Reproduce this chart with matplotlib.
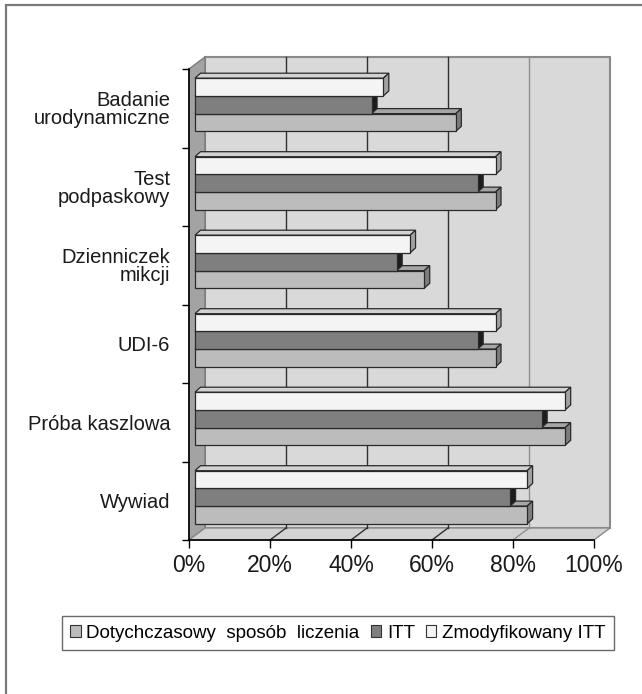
import matplotlib
matplotlib.use("Agg")
import matplotlib.pyplot as plt
from matplotlib.patches import Polygon, Rectangle, Patch

plt.rcParams['font.family'] = ['Liberation Sans', 'DejaVu Sans']

# ── data (top → bottom as shown) ───────────────────────────────────────────
categories = ["Badanie\nurodynamiczne", "Test\npodpaskowy", "Dzienniczek\nmikcji",
              "UDI-6", "Próba kaszlowa", "Wywiad"]
dotychczasowy = [64.4, 74.2, 56.6, 74.2, 91.4, 82.0]
itt           = [43.6, 69.8, 49.8, 69.8, 85.6, 77.8]
zmodyfikowany = [46.5, 74.2, 53.1, 74.2, 91.4, 82.0]
series_names = ["Dotychczasowy  sposób  liczenia", "ITT", "Zmodyfikowany ITT"]
x_ticks = [0, 20, 40, 60, 80, 100]

# ── style ───────────────────────────────────────────────────────────────────
# (front, top face, side face) for each series
_C = [
    ("#bcbcbc", "#a6a6a6", "#7d7d7d"),
    ("#7f7f7f", "#666666", "#1c1c1c"),
    ("#f3f4f3", "#d2d2d2", "#a2a2a2"),
]
EDGE = "#2a2a2a"
W, H = 642, 694
L, R, T, B = 189, 594, 69, 540          # front plane of the plot (px)
WALL_D = (16, 12)                       # wall depth offset (px)
BAR_F = (6, 3.5)                        # bar front-face offset (px)
BAR_D = (5.5, 5)                        # bar depth (px)
BAR_H = 17.7                            # bar thickness (px)

fig = plt.figure(figsize=(W / 100, H / 100), dpi=100, facecolor="white")
ax = fig.add_axes([L / W, 1 - B / H, (R - L) / W, (B - T) / H])
n = len(categories)
ax.set_xlim(0, 100)
ax.set_ylim(-0.5, n - 0.5)
ax.patch.set_visible(False)

sx = 100 / (R - L)
sy = n / (B - T)


def off(p):
    return p[0] * sx, p[1] * sy


# ── walls ───────────────────────────────────────────────────────────────────
dx, dy = off(WALL_D)
y0, y1 = -0.5, n - 0.5
ax.add_patch(Rectangle((dx, y0 + dy), 100, n, fc="#d9d9d9", ec="#8a8a8a",
                       lw=1.5, clip_on=False, zorder=0))
ax.add_patch(Polygon([(0, y0), (0, y1), (dx, y1 + dy), (dx, y0 + dy)],
                     fc="#a3a3a3", ec="#7a7a7a", lw=1.0, clip_on=False, zorder=1))
ax.add_patch(Polygon([(0, y0), (100, y0), (100 + dx, y0 + dy), (dx, y0 + dy)],
                     fc="#d3d3d3", ec="#8a8a8a", lw=1.0, clip_on=False, zorder=1))
for t in x_ticks[1:-1]:
    gc = "#8f8f8f" if t == 80 else "#303030"
    ax.plot([t + dx, t + dx], [y0 + dy, y1 + dy], color=gc, lw=1.0,
            clip_on=False, zorder=1)
    ax.plot([t, t + dx], [y0, y0 + dy], color=gc, lw=1.0, clip_on=False, zorder=1)

# ── 3D bars ─────────────────────────────────────────────────────────────────
fx, fy = off(BAR_F)
bx, by = off(BAR_D)
h = BAR_H * sy
ypos = [n - 1 - i for i in range(n)]
for k, vals in enumerate([dotychczasowy, itt, zmodyfikowany]):
    front, topc, sidec = _C[k]
    ys = [y + (k - 1) * h + fy for y in ypos]
    bars = ax.barh(ys, vals, left=fx, height=h, color=front, edgecolor=EDGE,
                   linewidth=0.9, clip_on=False)
    for y, v, bar in zip(ys, vals, bars):
        z = 10 + (y * 3 + k) * 3 + 20
        top, bot, x1 = y + h / 2, y - h / 2, fx + v
        ax.add_patch(Polygon([(fx, top), (x1, top), (x1 + bx, top + by), (fx + bx, top + by)],
                             fc=topc, ec=EDGE, lw=0.9, clip_on=False, zorder=z))
        ax.add_patch(Polygon([(x1, bot), (x1, top), (x1 + bx, top + by), (x1 + bx, bot + by)],
                             fc=sidec, ec=EDGE, lw=0.9, clip_on=False, zorder=z + 1))
        bar.set_zorder(z + 2)

# ── axes ────────────────────────────────────────────────────────────────────
ax.set_yticks(ypos)
ax.set_yticklabels(categories, fontsize=14.5, linespacing=0.92)
ax.set_yticks([y0 + i for i in range(n + 1)], minor=True)
ax.tick_params(axis="y", which="major", length=0, pad=13.5, colors="#1a1a1a")
ax.tick_params(axis="y", which="minor", length=5, width=1.0, color="black")
ax.set_xticks(x_ticks)
ax.set_xticklabels([f"{t}%" for t in x_ticks], fontsize=16.5, color="#1a1a1a")
ax.tick_params(axis="x", length=5.8, width=1.0, pad=4, color="black")
for s in ["top", "right"]:
    ax.spines[s].set_visible(False)
for s in ["left", "bottom"]:
    ax.spines[s].set_color("black")
    ax.spines[s].set_linewidth(1.2)
    ax.spines[s].set_zorder(100)

# ── legend ──────────────────────────────────────────────────────────────────
handles = [Patch(fc=c[0], ec="#333333", lw=0.8, label=nm)
           for c, nm in zip(_C, series_names)]
leg = fig.legend(handles=handles, ncol=3, loc="center",
                 bbox_to_anchor=(338 / W, 1 - 633 / H), fontsize=13.5,
                 frameon=True, fancybox=False, edgecolor="#444444",
                 handlelength=0.55, handleheight=0.55, handletextpad=0.3,
                 columnspacing=0.6, borderpad=0.45, borderaxespad=0)
leg.get_frame().set_linewidth(1.0)

# ── outer frame ─────────────────────────────────────────────────────────────
fig.patches.append(Rectangle((6 / W, -0.1), 1.2, 1 - 5 / H + 0.1, fill=False,
                             ec="#7a7a7a", lw=1.6, transform=fig.transFigure))

fig.savefig("out.png", dpi=100, facecolor="white")
